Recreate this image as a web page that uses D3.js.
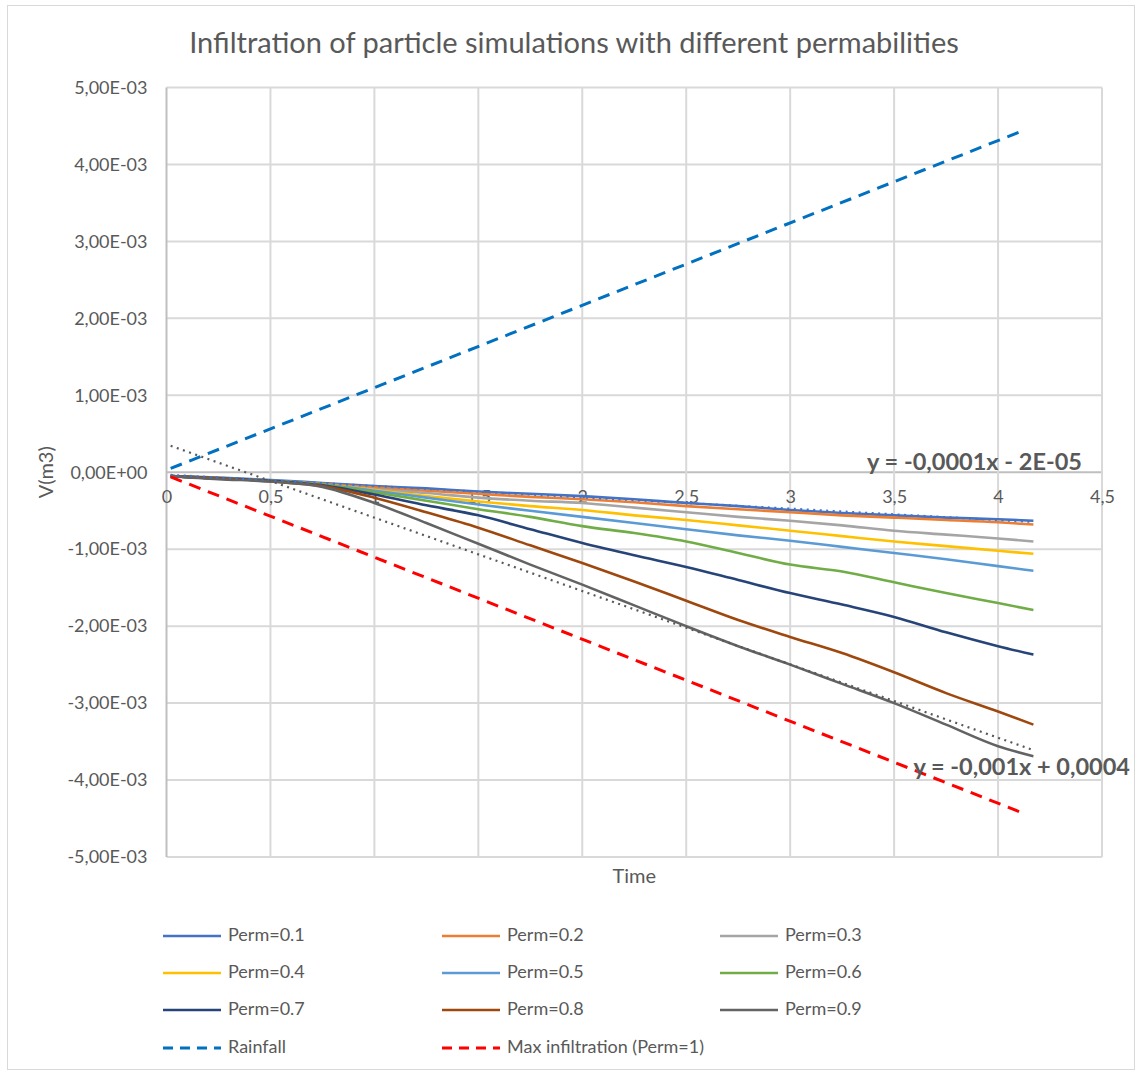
<!DOCTYPE html>
<html>
<head>
<meta charset="utf-8">
<script src="https://cdn.jsdelivr.net/npm/d3@7"></script>
<style>
  body { margin: 0; background: #fff; }
  text { font-family: Lato, "Open Sans", sans-serif; fill: #595959; }
</style>
</head>
<body>
<div id="wrapper"></div>
<script>
// values are in 1e-3 m3
const time = [0.02, 0.25, 0.5, 0.75, 1, 1.25, 1.5, 1.75, 2, 2.25, 2.5, 2.75, 3, 3.25, 3.5, 3.75, 4, 4.17]
const perm01 = [-0.05, -0.07, -0.10, -0.14, -0.18, -0.21, -0.25, -0.28, -0.31, -0.35, -0.40, -0.44, -0.49, -0.53, -0.56, -0.59, -0.61, -0.63]
const perm02 = [-0.05, -0.08, -0.11, -0.15, -0.20, -0.24, -0.28, -0.32, -0.35, -0.39, -0.44, -0.48, -0.52, -0.56, -0.59, -0.62, -0.65, -0.68]
const perm03 = [-0.05, -0.08, -0.11, -0.16, -0.22, -0.27, -0.33, -0.37, -0.40, -0.46, -0.52, -0.58, -0.63, -0.69, -0.76, -0.81, -0.86, -0.90]
const perm04 = [-0.05, -0.08, -0.11, -0.16, -0.23, -0.31, -0.38, -0.44, -0.49, -0.56, -0.62, -0.69, -0.76, -0.83, -0.90, -0.96, -1.02, -1.06]
const perm05 = [-0.05, -0.08, -0.11, -0.16, -0.24, -0.33, -0.42, -0.50, -0.58, -0.66, -0.74, -0.82, -0.89, -0.97, -1.05, -1.13, -1.22, -1.28]
const perm06 = [-0.05, -0.08, -0.11, -0.16, -0.26, -0.37, -0.48, -0.58, -0.70, -0.79, -0.90, -1.05, -1.20, -1.29, -1.43, -1.57, -1.70, -1.79]
const perm07 = [-0.05, -0.08, -0.11, -0.17, -0.29, -0.43, -0.56, -0.74, -0.92, -1.08, -1.23, -1.40, -1.57, -1.72, -1.88, -2.08, -2.26, -2.37]
const perm08 = [-0.05, -0.08, -0.12, -0.18, -0.33, -0.52, -0.72, -0.95, -1.18, -1.42, -1.67, -1.92, -2.14, -2.35, -2.60, -2.87, -3.11, -3.28]
const perm09 = [-0.05, -0.09, -0.12, -0.19, -0.40, -0.66, -0.93, -1.20, -1.46, -1.73, -2.00, -2.26, -2.50, -2.75, -3.00, -3.28, -3.56, -3.69]

const lineTime = [0.02, 4.13]
const rainfall = [0.05, 4.45]
const maxInfiltration = [-0.06, -4.44]

const permNames = ["Perm=0.1", "Perm=0.2", "Perm=0.3", "Perm=0.4", "Perm=0.5", "Perm=0.6", "Perm=0.7", "Perm=0.8", "Perm=0.9"]
const permColors = ["#4472C4", "#ED7D31", "#A5A5A5", "#FFC000", "#5B9BD5", "#70AD47", "#264478", "#9E480E", "#636363"]
const xTicks = [0, 0.5, 1, 1.5, 2, 2.5, 3, 3.5, 4, 4.5]
const yTicks = [-5, -4, -3, -2, -1, 0, 1, 2, 3, 4, 5]
const trendLabels = ["y = -0,0001x - 2E-05", "y = -0,001x + 0,0004"]

const permSeries = [perm01, perm02, perm03, perm04, perm05, perm06, perm07, perm08, perm09]

let dimensions = {
    width: 1137,
    height: 1072,
    margin: { top: 87.5, right: 35, bottom: 215, left: 166.5 },
}
dimensions.boundedWidth = dimensions.width - dimensions.margin.left - dimensions.margin.right
dimensions.boundedHeight = dimensions.height - dimensions.margin.top - dimensions.margin.bottom

const wrapper = d3.select("#wrapper")
    .append("svg")
    .attr("width", dimensions.width)
    .attr("height", dimensions.height)

// chart area frame
wrapper.append("rect")
    .attr("x", 7.5).attr("y", 5.5)
    .attr("width", 1127).attr("height", 1064)
    .attr("fill", "none")
    .attr("stroke", "#d9d9d9")

wrapper.append("text")
    .attr("x", 574).attr("y", 53)
    .attr("text-anchor", "middle")
    .attr("font-size", "29px")
    .text("Infiltration of particle simulations with different permabilities")

const bounds = wrapper.append("g")
    .attr("transform", `translate(${dimensions.margin.left},${dimensions.margin.top})`)

const xScaler = d3.scaleLinear().domain([0, 4.5]).range([0, dimensions.boundedWidth])
const yScaler = d3.scaleLinear().domain([-5, 5]).range([dimensions.boundedHeight, 0])

// gridlines
bounds.append("g").selectAll("line").data(yTicks).join("line")
    .attr("x1", 0).attr("x2", dimensions.boundedWidth)
    .attr("y1", d => yScaler(d)).attr("y2", d => yScaler(d))
    .attr("stroke", d => d === 0 ? "#bfbfbf" : "#d9d9d9")
    .attr("stroke-width", 2)
bounds.append("g").selectAll("line").data(xTicks).join("line")
    .attr("x1", d => xScaler(d)).attr("x2", d => xScaler(d))
    .attr("y1", 0).attr("y2", dimensions.boundedHeight)
    .attr("stroke", d => d === 0 ? "#bfbfbf" : "#d9d9d9")
    .attr("stroke-width", 2)

const sciFormat = v => {
    if (v === 0) return "0,00E+00"
    const val = v * 1e-3
    const e = Math.floor(Math.log10(Math.abs(val)) + 1e-9)
    const m = val / Math.pow(10, e)
    return m.toFixed(2).replace(".", ",") + "E" + (e < 0 ? "-" : "+") + String(Math.abs(e)).padStart(2, "0")
}

const yAxisGen = d3.axisLeft(yScaler).tickValues(yTicks).tickFormat(sciFormat).tickSize(0).tickPadding(19)
const yAxis = bounds.append("g").call(yAxisGen)
yAxis.select(".domain").remove()
yAxis.selectAll("text").attr("font-size", "18px").attr("fill", "#595959")
    .style("font-family", "Lato, sans-serif")

const xAxisGen = d3.axisBottom(xScaler).tickValues(xTicks)
    .tickFormat(d => String(d).replace(".", ",")).tickSize(0).tickPadding(18)
const xAxis = bounds.append("g").call(xAxisGen)
    .attr("transform", `translate(0,${yScaler(0)})`)
xAxis.select(".domain").remove()
xAxis.selectAll("text").attr("font-size", "18px").attr("fill", "#595959")
    .style("font-family", "Lato, sans-serif")

// axis titles
bounds.append("text")
    .attr("transform", `translate(${48 - dimensions.margin.left},${dimensions.boundedHeight / 2}) rotate(-90)`)
    .attr("text-anchor", "middle").attr("dominant-baseline", "middle")
    .attr("font-size", "20px")
    .text("V(m3)")
bounds.append("text")
    .attr("x", dimensions.boundedWidth / 2).attr("y", dimensions.boundedHeight + 26)
    .attr("text-anchor", "middle")
    .attr("font-size", "20px")
    .text("Time")

const lineGen = d3.line()
    .x(d => xScaler(d[0]))
    .y(d => yScaler(d[1]))
    .curve(d3.curveMonotoneX)

permSeries.forEach((values, i) => {
    bounds.append("path")
        .datum(time.map((t, j) => [t, values[j]]))
        .attr("d", lineGen)
        .attr("fill", "none")
        .attr("stroke", permColors[i])
        .attr("stroke-width", 2.6)
        .attr("stroke-linejoin", "round")
})

// linear trendlines (least squares) for Perm=0.1 and Perm=0.9
const fit = (xs, ys) => {
    const mx = d3.mean(xs), my = d3.mean(ys)
    const slope = d3.sum(xs, (x, i) => (x - mx) * (ys[i] - my)) / d3.sum(xs, x => (x - mx) ** 2)
    return { slope: slope, intercept: my - slope * mx }
}
const trends = [
    { fit: fit(time, perm01), color: permColors[0] },
    { fit: fit(time, perm09), color: "#595959" },
]
trends.forEach(tr => {
    const ends = d3.extent(time)
    bounds.append("path")
        .datum(ends.map(t => [t, tr.fit.intercept + tr.fit.slope * t]))
        .attr("d", lineGen)
        .attr("fill", "none")
        .attr("stroke", tr.color)
        .attr("stroke-width", 2.2)
        .attr("stroke-dasharray", "2 4.5")
})

bounds.append("path")
    .datum(lineTime.map((t, j) => [t, rainfall[j]]))
    .attr("d", lineGen)
    .attr("fill", "none")
    .attr("stroke", "#0070C0")
    .attr("stroke-width", 3)
    .attr("stroke-dasharray", "12 8")
bounds.append("path")
    .datum(lineTime.map((t, j) => [t, maxInfiltration[j]]))
    .attr("d", lineGen)
    .attr("fill", "none")
    .attr("stroke", "#FF0000")
    .attr("stroke-width", 3)
    .attr("stroke-dasharray", "12 8")

// trendline equations
bounds.append("text")
    .attr("x", dimensions.boundedWidth - 20).attr("y", yScaler(0) - 2)
    .attr("text-anchor", "end")
    .attr("font-size", "23.5px").attr("font-weight", "bold")
    .text(trendLabels[0])
bounds.append("text")
    .attr("x", dimensions.boundedWidth + 28).attr("y", yScaler(-3.9) + 3)
    .attr("text-anchor", "end")
    .attr("font-size", "23.5px").attr("font-weight", "bold")
    .text(trendLabels[1])

// legend
const legendItems = permNames.map((name, i) => ({ name: name, color: permColors[i], dash: null }))
    .concat([
        { name: "Rainfall", color: "#0070C0", dash: "10 7" },
        { name: "Max infiltration (Perm=1)", color: "#FF0000", dash: "10 7" },
    ])
const legendCols = [163, 442, 720]
const legendRows = [936, 973, 1010, 1048]
const legend = wrapper.append("g")
const legendGroups = legend.selectAll("g").data(legendItems).join("g")
    .attr("transform", (d, i) => `translate(${legendCols[i % 3]},${legendRows[Math.floor(i / 3)]})`)
legendGroups.append("line")
    .attr("x1", 0).attr("x2", 58)
    .attr("stroke", d => d.color)
    .attr("stroke-width", d => d.dash ? 3 : 2.6)
    .attr("stroke-dasharray", d => d.dash)
legendGroups.append("text")
    .attr("x", 65).attr("dominant-baseline", "middle")
    .attr("font-size", "18px")
    .text(d => d.name)
</script>
</body>
</html>
